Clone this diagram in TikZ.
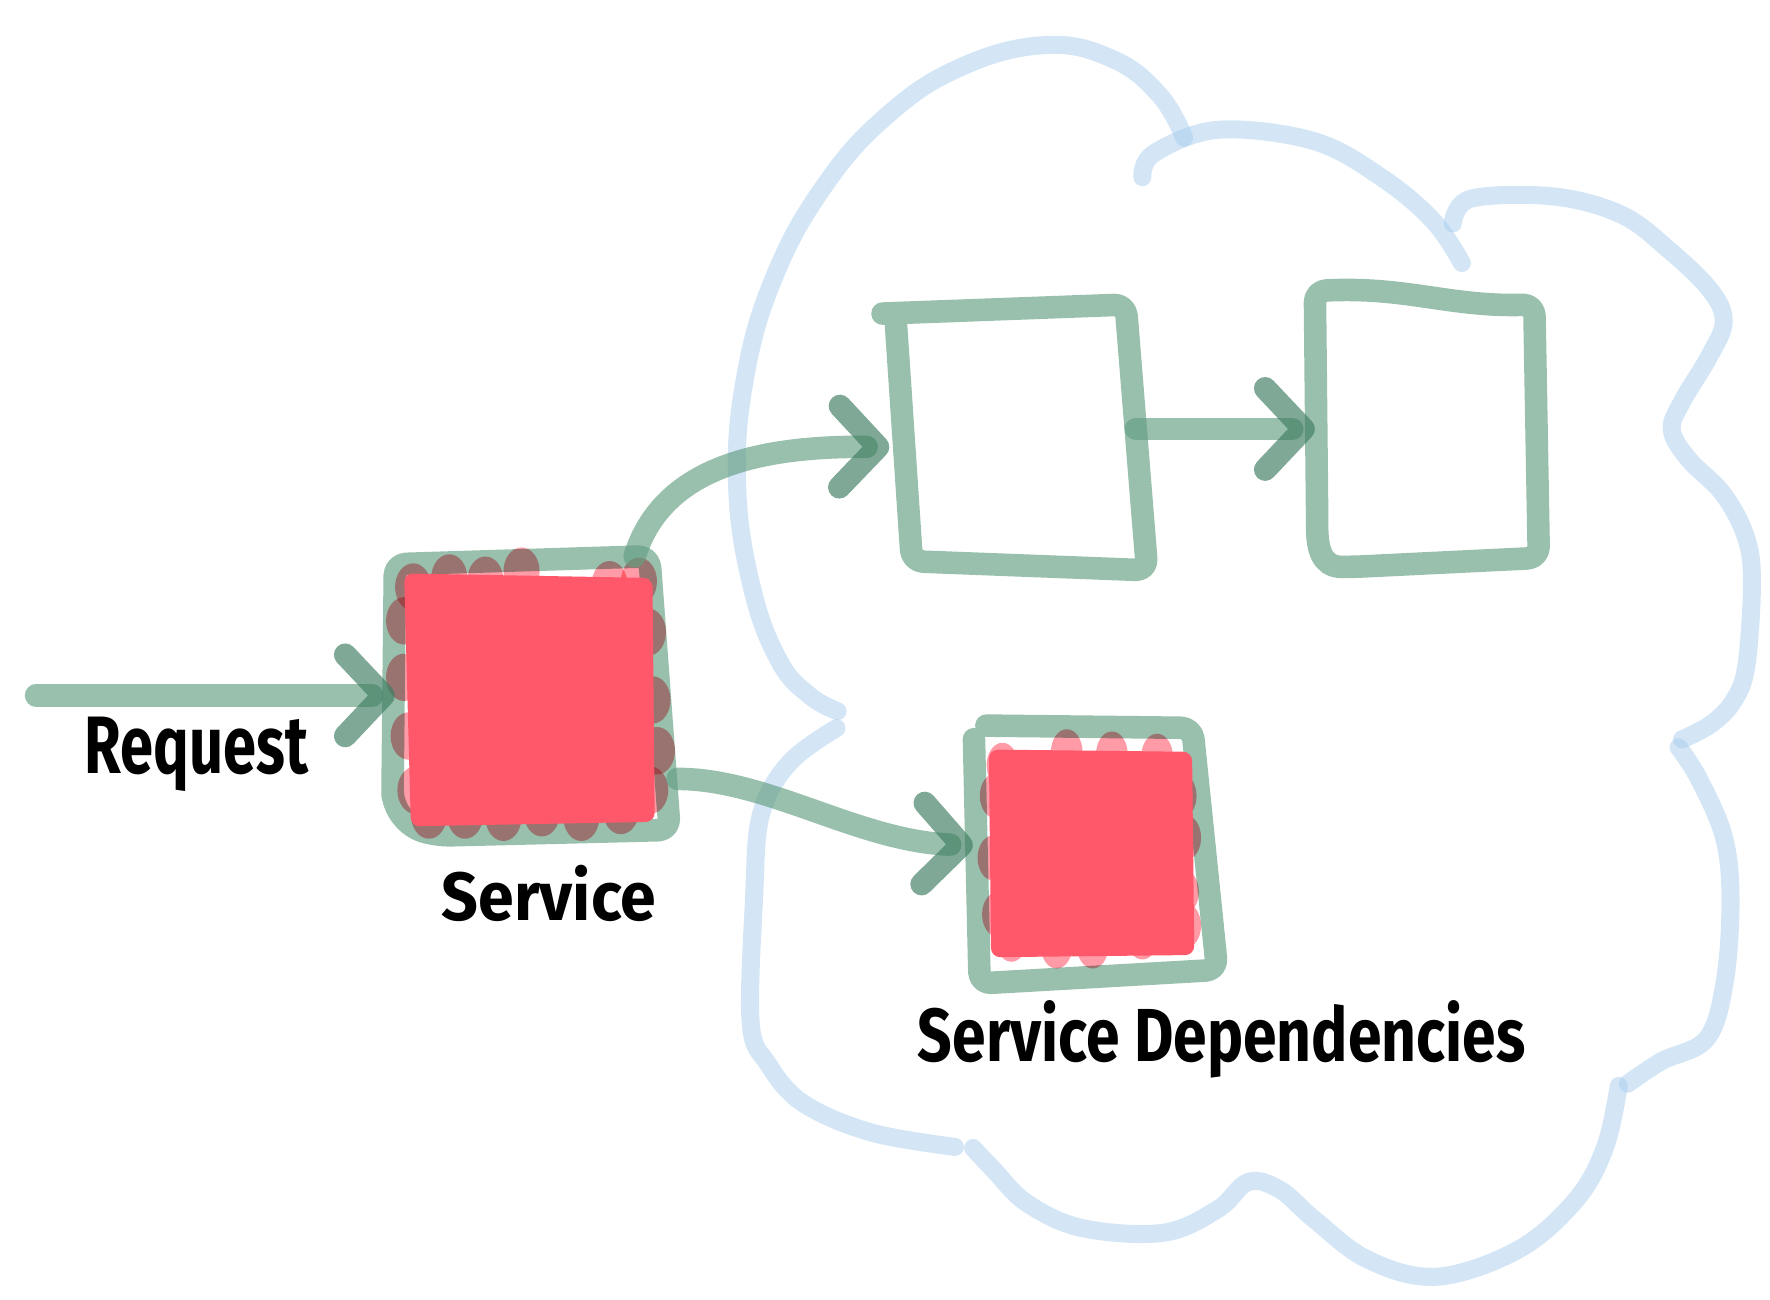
\documentclass[tikz,border=0pt]{standalone}
\usepackage{graphicx}
\usepackage{fontspec}
\setmainfont{Fira Sans}
\usetikzlibrary{arrows.meta,calc}
\definecolor{gr}{RGB}{100,158,130}
\definecolor{grdark}{RGB}{60,125,95}
\definecolor{cl}{RGB}{160,200,235}
\definecolor{rd}{RGB}{255,88,106}
\newcommand{\handtext}[3]{\resizebox{#1}{#2}{\bfseries #3}}
\tikzset{
  cloudline/.style={draw=cl, line width=16pt, opacity=0.45, line cap=round, line join=round},
  boxline/.style={draw=gr, line width=20pt, opacity=0.66, line cap=round, line join=round, rounded corners=10pt},
  conn/.style={draw=gr, line width=20pt, opacity=0.66, line cap=round,
     -{Straight Barb[round, length=34pt, width=72pt, color=grdark]}},
  holder/.style={draw=none, inner sep=0pt, rectangle},
  fillred/.style={fill=rd},
  blob/.style={fill=rd, opacity=0.6},
  lab/.style={anchor=base west, inner sep=0pt, text=black}
}
\begin{document}
\begin{tikzpicture}[x=1pt, y=-1pt]
\useasboundingbox (0,0) rectangle (1568,1151);

% cloud
\draw[cloudline] plot[smooth, tension=0.7] coordinates {(742,630) (717,616) (690,585) (666,520) (653,430) (660,335) (686,245) (730,165) (785,103) (850,60) (925,40) (985,52) (1027,84) (1049,122)};
\draw[cloudline] plot[smooth, tension=0.6] coordinates {(1012,157) (1022,136) (1079,115) (1164,125) (1225,158) (1270,196) (1295,233)};
\draw[cloudline] plot[smooth, tension=0.6] coordinates {(1287,198) (1303,176) (1376,174) (1436,190) (1478,221) (1515,257) (1527,285) (1514,316) (1490,356) (1481,381) (1496,407) (1526,437) (1546,474) (1552,514) (1547,590) (1535,622) (1515,642) (1490,655)};
\draw[cloudline] plot[smooth, tension=0.6] coordinates {(1487,662) (1505,690) (1527,741) (1533,796) (1528,869) (1512,920) (1472,940) (1442,960)};
\draw[cloudline] plot[smooth, tension=0.6] coordinates {(1434,962) (1422,1016) (1396,1063) (1345,1107) (1273,1131) (1212,1116) (1164,1080) (1134,1054) (1106,1047) (1079,1071) (1031,1092) (959,1088) (910,1066) (880,1036) (862,1017)};
\draw[cloudline] plot[smooth, tension=0.6] coordinates {(846,1016) (771,1003) (711,977) (680,942) (665,906) (668,796) (674,722) (699,676) (741,645)};

% nodes
\node[holder, minimum width=240pt, minimum height=238pt] (svc) at (470,616) {};
\node[holder, minimum width=210pt, minimum height=218pt] (boxA) at (897,388) {};
\node[holder, minimum width=196pt, minimum height=232pt] (boxB) at (1265,380) {};
\node[holder, minimum width=200pt, minimum height=220pt] (dep) at (966,755) {};
\coordinate (req) at (32,616);

% box outlines
\draw[boxline] ($(svc.north west)+(0,3)$) -- ($(svc.north east)+(-15,-4)$) -- ($(svc.south east)+(3,0)$) -- ($(svc.south west)+(40,5)$) [rounded corners=30pt] -- ($(svc.south west)+(-2,-5)$) [rounded corners=10pt] -- ($(svc.south west)+(-2,-40)$) -- cycle;
\draw[boxline] ($(boxA.north west)+(-10,-1)$) -- ($(boxA.north east)+(-5,-9)$) -- ($(boxA.south east)+(14,8)$) -- ($(boxA.south west)+(16,0)$) -- ($(boxA.north west)+(2,10)$);
\draw[boxline] ($(boxB.north west)+(-2,-6)$) .. controls ($(boxB.north west)+(80,-10)$) and ($(boxB.north east)+(-80,8)$) .. ($(boxB.north east)+(-4,6)$) -- ($(boxB.south east)+(0,-2)$) -- ($(boxB.south west)+(32,6)$) .. controls ($(boxB.south west)+(4,6)$) and ($(boxB.south west)+(0,-10)$) .. ($(boxB.south west)+(0,-40)$) -- cycle;
\draw[boxline] ($(dep.north west)+(8,-2)$) -- ($(dep.north east)+(-10,0)$) -- ($(dep.south east)+(12,-6)$) -- ($(dep.south west)+(2,6)$) -- ($(dep.north west)+(-3,10)$);

% red fills: edge blobs (multiplied onto the green), then the core
\begin{scope}[blend mode=multiply]
\foreach \p in {(366,520),(398,512),(430,514),(462,506),(540,518),(566,515),(358,550),(358,600),(362,652),(368,700),(380,722),(412,722),(446,724),(480,720),(515,724),(550,718),(574,560),(578,620),(582,665),(576,700)}
  \fill[blob] \p ellipse [x radius=16pt, y radius=21pt];
\foreach \p in {(888,678),(945,666),(985,668),(1025,670),(882,705),(880,760),(884,810),(1046,705),(1050,742),(1048,790),(1050,820),(896,832),(936,838),(968,838),(1012,830)}
  \fill[blob] \p ellipse [x radius=14pt, y radius=20pt];
\end{scope}
\fill[fillred, rounded corners=8pt] (358,508) -- (578,512) -- (580,728) -- (364,732) -- cycle;
\fill[fillred, rounded corners=8pt] (876,664) -- (1056,666) -- (1058,846) -- (878,848) -- cycle;

% connectors
\draw[conn] (req) -- (svc.west);
\draw[conn] ($(svc.north east)+(-28,-4)$) .. controls (585,420) and (660,395) .. ($(boxA.west)+(-4,8)$);
\draw[conn] ($(boxA.east)+(4,-8)$) -- ($(boxB.west)+(-2,0)$);
\draw[conn] ($(svc.east)+(10,74)$) .. controls (680,690) and (760,745) .. ($(dep.west)+(-4,-6)$);

% labels
\node[lab] (lreq) at (75,685) {\handtext{198pt}{50pt}{Request}};
\node[lab] (lsvc) at (391,815) {\handtext{190pt}{49pt}{Service}};
\node[lab] (ldep) at (813,940) {\handtext{538pt}{54pt}{Service Dependencies}};
\end{tikzpicture}
\end{document}
